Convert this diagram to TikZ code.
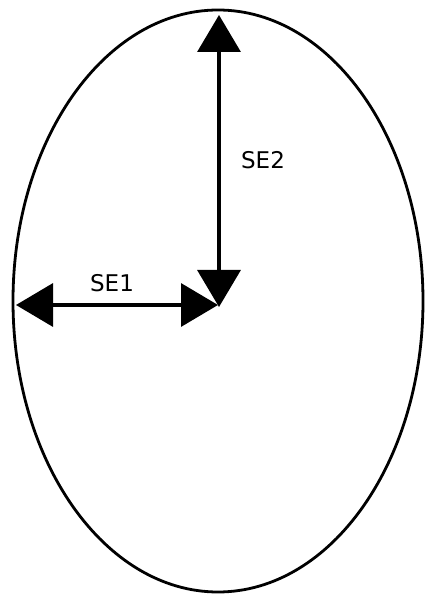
\documentclass[tikz,border=0pt]{standalone}
\usepackage{fontspec}
\setmainfont{DejaVu Sans}
\usetikzlibrary{arrows.meta}
\begin{document}
\begin{tikzpicture}[x=1pt,y=1pt,
  outline/.style={line width=2.8pt},
  dimarrow/.style={line width=3.4pt,{Triangle[length=37pt,width=43pt]}-{Triangle[length=37pt,width=43pt]}},
  lbl/.style={font=\fontsize{23}{27}\selectfont, inner sep=0pt}]
\useasboundingbox (0,0) rectangle (424,595);
\draw[outline] (218,294) ellipse [x radius=205, y radius=291];
\coordinate (c) at (218,290);
\coordinate (ctop) at (219,288);
\coordinate (top) at (219,580);
\coordinate (left) at (16,290);
\draw[dimarrow] (ctop) -- (top);
\draw[dimarrow] (left) -- (c);
\node[lbl] (se1) at (112,312) {SE1};
\node[lbl] (se2) at (263,435) {SE2};
\end{tikzpicture}
\end{document}
